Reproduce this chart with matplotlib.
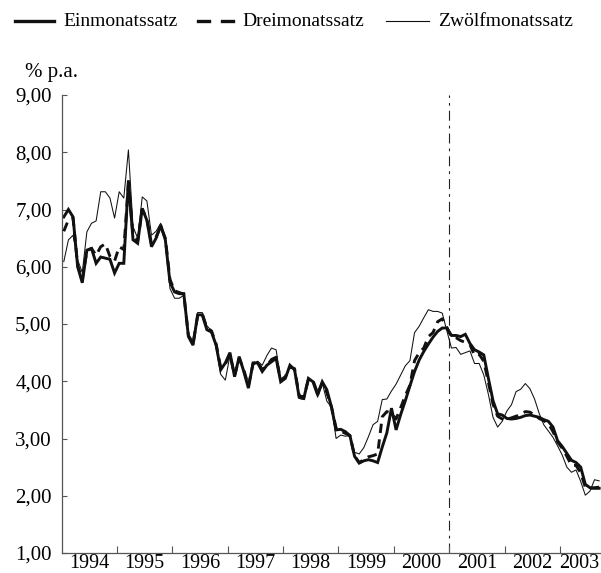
import numpy as np
import matplotlib.pyplot as plt
from matplotlib.lines import Line2D

plt.rcParams['font.family'] = ['Liberation Serif', 'DejaVu Serif']

# Monatswerte Jan 1994 - Sep 2003, % p.a.
years = [str(y) for y in range(1994, 2004)]

einmonat = [
    6.87, 7.00, 6.87, 6.00, 5.72, 6.29, 6.32, 6.06, 6.17, 6.15, 6.13, 5.89,
    6.06, 6.06, 7.51, 6.47, 6.41, 7.02, 6.81, 6.35, 6.50, 6.73, 6.47, 5.73,
    5.56, 5.53, 5.53, 4.78, 4.63, 5.16, 5.16, 4.90, 4.86, 4.63, 4.20, 4.32,
    4.50, 4.08, 4.43, 4.17, 3.88, 4.32, 4.32, 4.17, 4.28, 4.34, 4.40, 3.99,
    4.05, 4.28, 4.20, 3.72, 3.70, 4.05, 3.99, 3.76, 3.99, 3.85, 3.55, 3.15,
    3.16, 3.12, 3.05, 2.69, 2.57, 2.61, 2.63, 2.61, 2.58, 2.85, 3.10, 3.53,
    3.15, 3.42, 3.66, 3.92, 4.17, 4.37, 4.52, 4.65, 4.77, 4.87, 4.93, 4.93,
    4.80, 4.80, 4.78, 4.82, 4.66, 4.55, 4.51, 4.46, 4.05, 3.66, 3.43, 3.41,
    3.35, 3.34, 3.35, 3.37, 3.40, 3.41, 3.39, 3.37, 3.33, 3.30, 3.20, 2.96,
    2.86, 2.74, 2.62, 2.58, 2.50, 2.20, 2.14, 2.13, 2.13,
]

dreimonat = [
    6.62, 6.82, 6.85, 6.02, 5.78, 6.28, 6.32, 6.20, 6.35, 6.40, 6.18, 6.10,
    6.35, 6.30, 7.45, 6.55, 6.45, 7.00, 6.84, 6.40, 6.52, 6.70, 6.50, 5.78,
    5.58, 5.55, 5.52, 4.80, 4.66, 5.14, 5.18, 4.93, 4.88, 4.65, 4.24, 4.30,
    4.47, 4.10, 4.40, 4.20, 3.92, 4.30, 4.35, 4.20, 4.27, 4.38, 4.42, 4.02,
    4.08, 4.25, 4.22, 3.75, 3.72, 4.03, 4.01, 3.79, 3.97, 3.80, 3.55, 3.18,
    3.13, 3.09, 3.05, 2.70, 2.58, 2.63, 2.68, 2.70, 2.73, 3.38, 3.47, 3.44,
    3.34, 3.54, 3.75, 3.93, 4.36, 4.50, 4.58, 4.78, 4.85, 5.04, 5.09, 4.94,
    4.77, 4.76, 4.71, 4.68, 4.64, 4.45, 4.47, 4.35, 3.98, 3.60, 3.39, 3.34,
    3.34, 3.36, 3.39, 3.41, 3.47, 3.46, 3.41, 3.35, 3.31, 3.26, 3.12, 2.94,
    2.83, 2.69, 2.53, 2.53, 2.40, 2.15, 2.13, 2.14, 2.15,
]

zwoelfmonat = [
    6.09, 6.47, 6.55, 6.12, 5.90, 6.61, 6.76, 6.80, 7.31, 7.31, 7.20, 6.85,
    7.31, 7.20, 8.04, 6.70, 6.50, 7.22, 7.15, 6.55, 6.62, 6.76, 6.50, 5.62,
    5.45, 5.45, 5.50, 4.80, 4.68, 5.20, 5.20, 4.97, 4.88, 4.60, 4.12, 4.02,
    4.45, 4.10, 4.42, 4.20, 3.93, 4.30, 4.35, 4.28, 4.45, 4.58, 4.55, 4.02,
    4.05, 4.26, 4.20, 3.70, 3.68, 4.03, 4.00, 3.72, 3.97, 3.65, 3.55, 3.00,
    3.06, 3.04, 3.05, 2.76, 2.73, 2.84, 3.03, 3.24, 3.30, 3.68, 3.69, 3.83,
    3.95, 4.11, 4.27, 4.36, 4.85, 4.96, 5.11, 5.25, 5.22, 5.22, 5.19, 4.88,
    4.58, 4.59, 4.47, 4.50, 4.53, 4.31, 4.31, 4.11, 3.77, 3.37, 3.20, 3.30,
    3.48, 3.59, 3.82, 3.86, 3.96, 3.87, 3.69, 3.44, 3.24, 3.13, 3.02, 2.87,
    2.71, 2.50, 2.41, 2.45, 2.25, 2.01, 2.08, 2.28, 2.26,
]

y_ticks = [1, 2, 3, 4, 5, 6, 7, 8, 9]
euro_start = 84  # Januar 2001

W, H = 601, 573
fig = plt.figure(figsize=(W / 100, H / 100), dpi=100)
ax = fig.add_axes([61.5 / W, 1 - 553 / H, (W - 61.5) / W, (553 - 95) / H])

x = np.arange(len(einmonat))
ax.plot(x, einmonat, color='#111111', lw=2.1, solid_joinstyle='miter', zorder=2)
ax.plot(x, dreimonat, color='#111111', lw=2.1, ls=(0, (3.2, 2.2)), zorder=3)
ax.plot(x, zwoelfmonat, color='#111111', lw=0.75, zorder=4)

ax.axvline(euro_start - 0.5, color='#222222', lw=0.8,
           ls=(0, (9, 4.5, 2.5, 4.5)), zorder=1)

ax.set_xlim(-0.5, 116.4)
ax.set_ylim(1, 9)

for s in ['top', 'right']:
    ax.spines[s].set_visible(False)
for s in ['left', 'bottom']:
    ax.spines[s].set_color('#555555')
    ax.spines[s].set_linewidth(0.9)

ax.set_yticks(y_ticks)
ax.set_yticklabels([f'{v:.2f}'.replace('.', ',') for v in y_ticks])
ax.tick_params(axis='y', direction='in', length=3.5, width=0.8,
               color='#555555', pad=7, labelsize=15)

# Jahresgrenzen als Striche, Jahreszahlen mittig dazwischen
ax.set_xticks([12 * k - 0.5 for k in range(1, 10)])
ax.set_xticklabels([])
label_pos = [12 * k + 5.5 for k in range(9)] + [111.6]
ax.set_xticks(label_pos, minor=True)
ax.set_xticklabels(years, minor=True)
ax.tick_params(axis='x', which='major', direction='in', length=5, width=0.8,
               color='#555555')
ax.tick_params(axis='x', which='minor', length=0, pad=0.5, labelsize=14.5)

fig.text(25 / W, 1 - 72 / H, '% p.a.', fontsize=15, va='center', ha='left')

# Legende
ly = 1 - 21 / H
fig.add_artist(Line2D([15 / W, 54 / W], [ly, ly], color='#111111', lw=2.4))
fig.text(63 / W, ly, 'Einmonatssatz', fontsize=14, va='center', ha='left')
for a, b in [(198, 209), (222, 233)]:
    fig.add_artist(Line2D([a / W, b / W], [ly, ly], color='#111111', lw=2.4))
fig.text(242 / W, ly, 'Dreimonatssatz', fontsize=14, va='center', ha='left')
fig.add_artist(Line2D([386 / W, 429 / W], [ly, ly], color='#111111', lw=0.8))
fig.text(438 / W, ly, 'Zwölfmonatssatz', fontsize=14, va='center', ha='left')

fig.savefig('out.png', dpi=100)
